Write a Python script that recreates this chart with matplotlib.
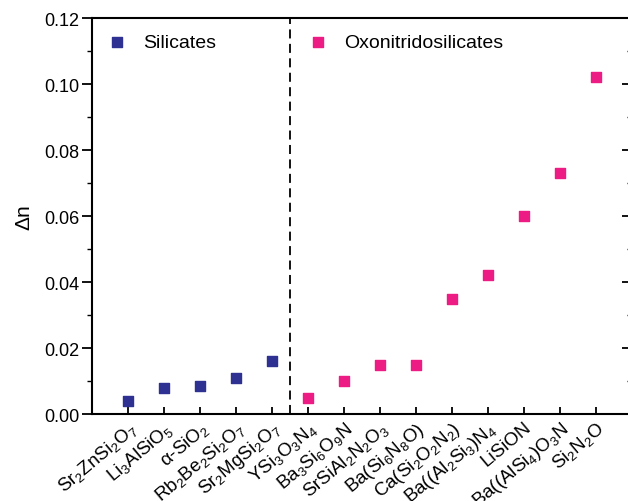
import matplotlib
matplotlib.use('Agg')
import matplotlib.pyplot as plt
from matplotlib.ticker import MultipleLocator, FormatStrFormatter

plt.rcParams['font.family'] = ['Liberation Sans', 'DejaVu Sans']
plt.rcParams['mathtext.fontset'] = 'custom'
plt.rcParams['mathtext.rm'] = 'Liberation Sans'
plt.rcParams['mathtext.it'] = 'Liberation Sans:italic'

# Data
silicate_names = [r'Sr$_2$ZnSi$_2$O$_7$', r'Li$_3$AlSiO$_5$', r'α-SiO$_2$',
                  r'Rb$_2$Be$_2$Si$_2$O$_7$', r'Sr$_2$MgSi$_2$O$_7$']
silicate_dn = [0.004, 0.008, 0.0085, 0.011, 0.016]

oxo_names = [r'YSi$_3$O$_3$N$_4$', r'Ba$_3$Si$_6$O$_9$N', r'SrSiAl$_2$N$_2$O$_3$',
             r'Ba(Si$_6$N$_8$O)', r'Ca(Si$_2$O$_2$N$_2$)', r'Ba((Al$_2$Si$_3$)N$_4$',
             r'LiSiON', r'Ba((AlSi$_4$)O$_3$N', r'Si$_2$N$_2$O']
oxo_dn = [0.005, 0.010, 0.015, 0.015, 0.035, 0.042, 0.060, 0.073, 0.102]

names = silicate_names + oxo_names
x_sil = list(range(1, len(silicate_names) + 1))
x_oxo = list(range(len(silicate_names) + 1, len(names) + 1))

fig = plt.figure(figsize=(6.28, 5.02), dpi=100)
ax = fig.add_axes([0.1465, 0.1733, 0.8595, 0.7887])

sil = ax.scatter(x_sil, silicate_dn, marker='s', s=52, color='#2e3192', label='Silicates', zorder=3)
oxo = ax.scatter(x_oxo, oxo_dn, marker='s', s=52, color='#ec1c84', label='Oxonitridosilicates', zorder=3)
ax.axvline(len(silicate_names) + 0.5, color='black', linestyle=(0, (5, 3)), linewidth=1.3)

ax.set_xlim(0, len(names) + 1)
ax.set_ylim(0, 0.12)
ax.set_xticks(x_sil + x_oxo)
ax.set_xticklabels(names, rotation=40, ha='right', va='top', rotation_mode='anchor', fontsize=13.5)
ax.yaxis.set_major_locator(MultipleLocator(0.02))
ax.yaxis.set_minor_locator(MultipleLocator(0.01))
ax.yaxis.set_major_formatter(FormatStrFormatter('%.2f'))
ax.tick_params(axis='y', which='both', direction='out', labelsize=13, pad=2)
ax.tick_params(axis='y', which='major', length=7, width=1.3)
ax.tick_params(axis='y', which='minor', length=3.5, width=1)
ax.tick_params(axis='x', direction='in', length=5, width=1.3, pad=3)
for s in ax.spines.values():
    s.set_linewidth(1.5)

# right axis: ticks pointing inward, no labels
sec = ax.secondary_yaxis('right')
sec.yaxis.set_major_locator(MultipleLocator(0.02))
sec.yaxis.set_minor_locator(MultipleLocator(0.01))
sec.tick_params(which='both', direction='in', labelright=False)
sec.tick_params(which='major', length=7, width=1.3)
sec.tick_params(which='minor', length=3.5, width=1)
sec.spines['right'].set_linewidth(1.5)

ax.set_ylabel('Δn', fontsize=15, labelpad=8)

leg_kw = dict(frameon=False, fontsize=14, handletextpad=0.85, handlelength=1.0,
              borderpad=0, borderaxespad=0, loc='center left', markerscale=0.9)
leg1 = ax.legend(handles=[sil], bbox_to_anchor=(0.028, 0.939), **leg_kw)
ax.add_artist(leg1)
ax.legend(handles=[oxo], bbox_to_anchor=(0.40, 0.939), **leg_kw)

fig.savefig('out.png', dpi=100)
